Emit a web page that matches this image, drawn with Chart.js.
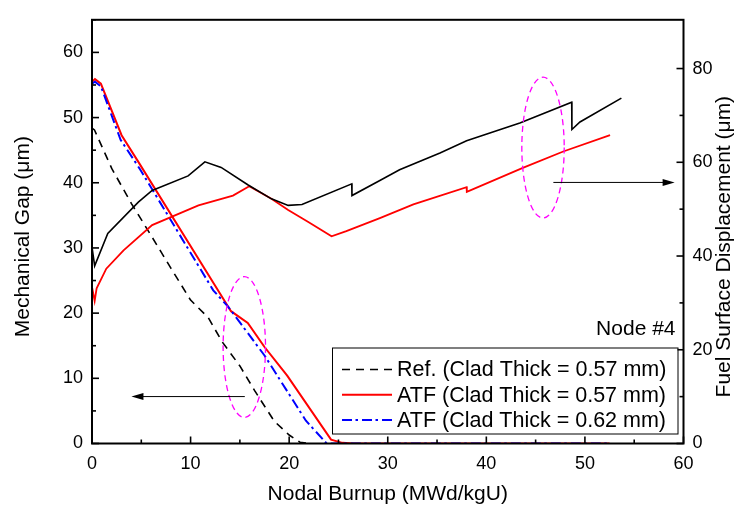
<!DOCTYPE html>
<html><head><meta charset="utf-8">
<script src="https://cdn.jsdelivr.net/npm/chart.js@4"></script>
<style>html,body{margin:0;padding:0;background:#fff}</style>
</head><body>
<canvas id="c" width="748" height="508" style="display:block;width:748px;height:508px"></canvas>
<script>
// ---- Data ----
// Mechanical gap (left axis, um) vs nodal burnup (MWd/kgU)
const refGapBurnup = [0,0.25,2,4,6,8,10,11.8,13.2,15,16.5,18.5,20,21.1,22];
const refGapValues = [48.4,48.1,42.2,36.8,31.9,26.9,22.0,19.3,15.6,11.9,8.1,3.4,1.3,0.2,0];

const atf57GapBurnup = [0,0.3,0.9,3.0,4.7,12.95,14.1,15.8,17.5,19.8,24.25,25.4,26.5,52.5];
const atf57GapValues = [55.5,55.9,55.2,47.3,43.2,23.1,20.3,18.5,14.8,10.4,0.6,0.1,0,0];

const atf62GapBurnup = [0,0.3,0.9,2.9,4.9,12.3,13.8,17.5,21.7,22.6,23.8,52.5];
const atf62GapValues = [55.2,55.5,54.8,46.6,42.0,23.5,21.0,13.5,3.5,2.0,0,0];

// Fuel surface displacement (right axis, um)
const refDispBurnup = [0,0.27,1.6,4.7,6.1,9.75,11.45,13.1,15.8,18.2,19.9,21.3,26.35,26.37,29.2,31.2,35.3,38.0,43.4,48.66,48.68,49.5,53.7];
const refDispValues = [41.9,37.9,44.8,51.5,54.0,57.1,60.1,58.9,55.2,52.2,50.8,51.0,55.4,52.9,56.1,58.4,62.0,64.6,68.4,72.8,67.0,68.6,73.7];

const atfDispBurnup = [0,0.27,0.47,1.45,3.2,6.1,10.8,14.3,15.95,18.2,19.9,21.9,24.3,25.8,29.2,32.6,38.0,38.02,43.7,47.8,52.55];
const atfDispValues = [33.4,30.4,33.1,37.3,41.2,46.6,50.8,52.9,54.9,52.2,49.8,47.3,44.2,45.3,48.1,51.0,54.7,53.7,58.8,62.3,65.8];

// Axis ticks
const xTicks = [0,10,20,30,40,50,60];
const yTicks = [0,10,20,30,40,50,60];
const y2Ticks = [0,20,40,60,80];

// Text
const legendLabels = [
  'Ref. (Clad Thick = 0.57 mm)',
  'ATF (Clad Thick = 0.57 mm)',
  'ATF (Clad Thick = 0.62 mm)'
];
const nodeLabel = 'Node #4';
const xTitle = 'Nodal Burnup (MWd/kgU)';
const yTitle = 'Mechanical Gap (\u03BCm)';
const y2Title = 'Fuel Surface Displacement (\u03BCm)';

// ---- Build chart ----
const pts = (xs, ys) => xs.map((x, i) => ({x, y: ys[i]}));
const FONT = "'Liberation Sans', Arial, sans-serif";

const styles = {
  ref:   {borderColor:'#000000', borderWidth:1.6, borderDash:[8,6]},
  atf57: {borderColor:'#ff0000', borderWidth:2, borderDash:[]},
  atf62: {borderColor:'#0000ff', borderWidth:2, borderDash:[10,3.5,2.5,4]}
};

const datasets = [
  {label:'refDisp', data:pts(refDispBurnup, refDispValues), yAxisID:'y2', borderColor:'#000', borderWidth:1.6},
  {label:'atfDisp', data:pts(atfDispBurnup, atfDispValues), yAxisID:'y2', borderColor:'#ff0000', borderWidth:1.8},
  {label:legendLabels[0], data:pts(refGapBurnup, refGapValues), yAxisID:'y', ...styles.ref},
  {label:legendLabels[2], data:pts(atf62GapBurnup, atf62GapValues), yAxisID:'y', ...styles.atf62},
  {label:legendLabels[1], data:pts(atf57GapBurnup, atf57GapValues), yAxisID:'y', ...styles.atf57}
].map(d => Object.assign({showLine:true, pointRadius:0, tension:0, fill:false, borderJoinStyle:'miter'}, d));

// annotations in data units (x: burnup, y: left axis)
const ellipses = [
  {cx:15.45, cy:14.8, rx:2.15, ry:10.8},
  {cx:45.75, cy:45.4, rx:2.15, ry:10.8}
];
const arrows = [
  {axis:'y',  x1:15.5, x2:4.0,  yv:7.2},
  {axis:'y2', x1:46.8, x2:59.1, yv:55.7}
];

const overlay = {
  id:'overlay',
  afterDatasetsDraw(chart){
    const {ctx, chartArea:a, scales} = chart;
    const sx = scales.x, sy = scales.y, sy2 = scales.y2;
    ctx.save();
    // ellipses
    ctx.strokeStyle = '#ff00ff'; ctx.lineWidth = 1.3; ctx.setLineDash([6,4]);
    ellipses.forEach(e => {
      const cx = sx.getPixelForValue(e.cx), cy = sy.getPixelForValue(e.cy);
      const rx = Math.abs(sx.getPixelForValue(e.cx + e.rx) - cx);
      const ry = Math.abs(sy.getPixelForValue(e.cy + e.ry) - cy);
      ctx.beginPath(); ctx.ellipse(cx, cy, rx, ry, 0, 0, Math.PI*2); ctx.stroke();
    });
    ctx.setLineDash([]);
    // arrows
    ctx.strokeStyle = '#000'; ctx.fillStyle = '#000'; ctx.lineWidth = 1;
    arrows.forEach(ar => {
      const s = scales[ar.axis];
      const y = s.getPixelForValue(ar.yv);
      const x1 = sx.getPixelForValue(ar.x1), x2 = sx.getPixelForValue(ar.x2);
      const dir = Math.sign(x2 - x1);
      ctx.beginPath(); ctx.moveTo(x1, y); ctx.lineTo(x2 - dir*10, y); ctx.stroke();
      ctx.beginPath(); ctx.moveTo(x2, y); ctx.lineTo(x2 - dir*12, y - 3.5); ctx.lineTo(x2 - dir*12, y + 3.5); ctx.closePath(); ctx.fill();
    });
    // frame
    ctx.strokeStyle = '#000'; ctx.lineWidth = 2;
    ctx.strokeRect(a.left, a.top, a.right - a.left, a.bottom - a.top);
    // inward ticks
    ctx.lineWidth = 1.6;
    const tick = (x1,y1,x2,y2) => {ctx.beginPath(); ctx.moveTo(x1,y1); ctx.lineTo(x2,y2); ctx.stroke();};
    for (let v = 0; v <= 60; v += 5) {
      const px = sx.getPixelForValue(v), L = v % 10 === 0 ? 7 : 4;
      tick(px, a.bottom, px, a.bottom - L);
    }
    for (let v = 0; v <= 65; v += 5) {
      const py = sy.getPixelForValue(v), L = v % 10 === 0 ? 7 : 4;
      tick(a.left, py, a.left + L, py);
    }
    for (let v = 0; v <= 80; v += 10) {
      const py = sy2.getPixelForValue(v), L = v % 20 === 0 ? 7 : 4;
      tick(a.right, py, a.right - L, py);
    }
    // Node label
    ctx.fillStyle = '#000'; ctx.font = '21px ' + FONT;
    ctx.textAlign = 'right'; ctx.textBaseline = 'middle';
    ctx.fillText(nodeLabel, a.right - 8, a.bottom - 114);
    // legend
    ctx.font = '21.5px ' + FONT;
    const bx = a.left + 240, by = a.bottom - 96, bw = a.right - 6 - bx, bh = 86;
    ctx.fillStyle = '#fff'; ctx.fillRect(bx, by, bw, bh);
    ctx.strokeStyle = '#000'; ctx.lineWidth = 1; ctx.strokeRect(bx + 0.5, by + 0.5, bw, bh);
    const order = [styles.ref, styles.atf57, styles.atf62];
    order.forEach((st, i) => {
      const yy = by + 22 + i * 25.3;
      ctx.strokeStyle = st.borderColor; ctx.lineWidth = st.borderWidth; ctx.setLineDash(st.borderDash);
      ctx.beginPath(); ctx.moveTo(bx + 10, yy); ctx.lineTo(bx + 60, yy); ctx.stroke();
      ctx.setLineDash([]);
      ctx.fillStyle = '#000'; ctx.textAlign = 'left'; ctx.textBaseline = 'middle';
      ctx.fillText(legendLabels[i], bx + 65, yy + 1);
    });
    // axis titles (both vertical titles read bottom-to-top)
    ctx.font = '21px ' + FONT; ctx.fillStyle = '#000';
    ctx.textAlign = 'center'; ctx.textBaseline = 'middle';
    ctx.save(); ctx.translate(23, (a.top + a.bottom) / 2 + 5); ctx.rotate(-Math.PI / 2);
    ctx.fillText(yTitle, 0, 0); ctx.restore();
    ctx.save(); ctx.translate(724, (a.top + a.bottom) / 2 + 15); ctx.rotate(-Math.PI / 2);
    ctx.fillText(y2Title, 0, 0); ctx.restore();
    ctx.fillText(xTitle, (a.left + a.right) / 2, 494);
    ctx.restore();
  }
};

const tickFont = {family: FONT, size: 18};

new Chart(document.getElementById('c'), {
  type: 'scatter',
  data: {datasets},
  options: {
    responsive: false, animation: false, devicePixelRatio: 1,
    layout: {padding: {top: 11, left: 0, right: 0, bottom: 0}},
    plugins: {legend: {display: false}, tooltip: {enabled: false}},
    scales: {
      x: {
        type: 'linear', position: 'bottom', min: 0, max: 60,
        grid: {display: false, drawTicks: false}, border: {display: false},
        afterBuildTicks: s => { s.ticks = xTicks.map(v => ({value: v})); },
        ticks: {color: '#000', font: tickFont, padding: 10, maxRotation: 0, autoSkip: false},
        afterFit: s => { s.height = 64.5; }
      },
      y: {
        type: 'linear', position: 'left', min: 0, max: 65,
        grid: {display: false, drawTicks: false}, border: {display: false},
        afterBuildTicks: s => { s.ticks = yTicks.map(v => ({value: v})); },
        ticks: {color: '#000', font: tickFont, padding: 9},
        afterFit: s => { s.width = 92; }
      },
      y2: {
        type: 'linear', position: 'right', min: 0, max: 90.4,
        grid: {display: false, drawTicks: false}, border: {display: false},
        afterBuildTicks: s => { s.ticks = y2Ticks.map(v => ({value: v})); },
        ticks: {color: '#000', font: tickFont, padding: 9},
        afterFit: s => { s.width = 64.5; }
      }
    }
  },
  plugins: [overlay]
});
</script>
</body></html>
